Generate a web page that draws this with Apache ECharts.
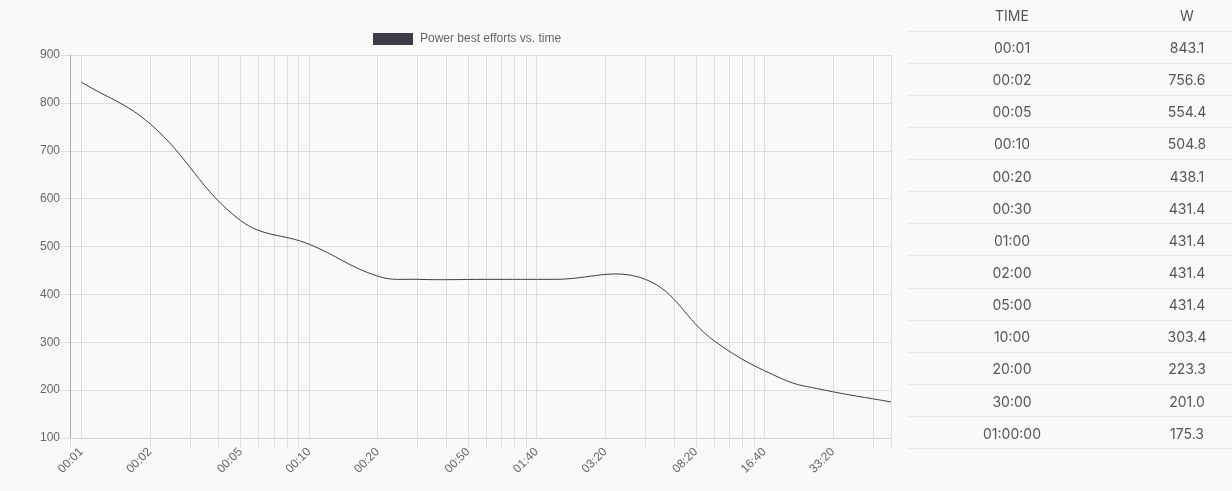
<!DOCTYPE html>
<html>
<head>
<meta charset="utf-8">
<script src="https://cdn.jsdelivr.net/npm/echarts@6/dist/echarts.min.js"></script>
<style>
  html, body { margin: 0; padding: 0; background: #f9f9f9; overflow: hidden; }
  #chart { position: absolute; left: 0; top: 0; width: 1232px; height: 491px; }
  #tbl { position: absolute; left: 908px; top: 0; width: 324px; font-family: Inter, "Noto Sans", sans-serif; font-size: 14px; color: #555; }
  .row { position: relative; height: 32.15px; border-bottom: 1px solid #e9e9e9; box-sizing: border-box; }
  .row.head { height: 31.5px; }
  .row span { position: absolute; top: 50%; transform: translate(-50%, -50%); white-space: nowrap; }
  .c1 { left: 104px; }
  .c2 { left: 279px; }
</style>
</head>
<body>
<div id="chart"></div>
<div id="tbl"></div>
<script>
// ---- data ----
const durations = [1, 2, 5, 10, 20, 30, 60, 120, 300, 600, 1200, 1800, 3600]; // seconds
const watts = [843.1, 756.6, 554.4, 504.8, 438.1, 431.4, 431.4, 431.4, 431.4, 303.4, 223.3, 201.0, 175.3];
const tableTimes = ['00:01','00:02','00:05','00:10','00:20','00:30','01:00','02:00','05:00','10:00','20:00','30:00','01:00:00'];
const tableWatts = ['843.1','756.6','554.4','504.8','438.1','431.4','431.4','431.4','431.4','303.4','223.3','201.0','175.3'];
const xLabelSeconds = [1, 2, 5, 10, 20, 50, 100, 200, 500, 1000, 2000];
const gridSeconds = [1,2,3,4,5,6,7,8,9,10,20,30,40,50,60,70,80,90,100,200,300,400,500,600,700,800,900,1000,2000,3000,3600];
const tickSeconds = [0.891,2,3,4,5,6,7,8,9,30,40,50,60,70,80,90,300,400,500,600,700,800,900,3000,3600];
const xMinSeconds = 0.891, xMaxSeconds = 3600;
const seriesName = 'Power best efforts vs. time';
const TENSION = 0.4;

// ---- table ----
const tbl = document.getElementById('tbl');
function addRow(a, b, head) {
  const r = document.createElement('div');
  r.className = 'row' + (head ? ' head' : '');
  r.innerHTML = '<span class="c1">' + a + '</span><span class="c2">' + b + '</span>';
  tbl.appendChild(r);
}
addRow('TIME', 'W', true);
tableTimes.forEach((t, i) => addRow(t, tableWatts[i]));

// ---- chart ----
const lg = v => Math.log10(v);
function fmt(v) {
  const s = Math.round(Math.pow(10, v));
  const m = Math.floor(s / 60), ss = s % 60;
  return String(m).padStart(2, '0') + ':' + String(ss).padStart(2, '0');
}
const seriesData = durations.map((d, i) => [lg(d), watts[i]]);

// spline control points (tension-based cardinal spline), in pixel space via api.coord
function controlPoints(prev, cur, next, t) {
  const d01 = Math.hypot(cur[0] - prev[0], cur[1] - prev[1]);
  const d12 = Math.hypot(next[0] - cur[0], next[1] - cur[1]);
  let s01 = d01 / (d01 + d12), s12 = d12 / (d01 + d12);
  if (!isFinite(s01)) s01 = 0;
  if (!isFinite(s12)) s12 = 0;
  const fa = t * s01, fb = t * s12;
  return {
    prev: [cur[0] - fa * (next[0] - prev[0]), cur[1] - fa * (next[1] - prev[1])],
    next: [cur[0] + fb * (next[0] - prev[0]), cur[1] + fb * (next[1] - prev[1])]
  };
}

const chart = echarts.init(document.getElementById('chart'));
const FONT = '"Liberation Sans", Arial, Helvetica, sans-serif';
const LINE = '#3d3e48';
chart.setOption({
  animation: false,
  backgroundColor: '#f9f9f9',
  textStyle: { fontFamily: FONT },
  legend: {
    left: 373, top: 33, padding: 0, itemWidth: 40, itemHeight: 12, icon: 'rect',
    textStyle: { fontSize: 12, color: '#666', fontFamily: FONT, padding: [0, 0, 0, 2] },
    data: [seriesName]
  },
  grid: { left: 70, right: 341, top: 55, bottom: 53, containLabel: false },
  xAxis: [{
    type: 'value',
    min: lg(xMinSeconds), max: lg(xMaxSeconds),
    axisLine: { show: true, onZero: false, lineStyle: { color: '#d0d0d0', width: 1 } },
    axisTick: { show: false, customValues: gridSeconds.map(lg) },
    splitLine: { show: true, lineStyle: { color: '#dedede', width: 1 } },
    axisLabel: {
      customValues: xLabelSeconds.map(lg), formatter: fmt,
      rotate: 45, margin: 12, fontSize: 12, color: '#666', fontFamily: FONT
    }
  }, {
    type: 'value', position: 'bottom',
    min: lg(xMinSeconds), max: lg(xMaxSeconds),
    axisLine: { show: false, onZero: false },
    axisTick: { show: true, length: 9, customValues: tickSeconds.map(lg), lineStyle: { color: '#dedede' } },
    splitLine: { show: false },
    axisLabel: { show: false }
  }],
  yAxis: {
    type: 'value', min: 100, max: 900, interval: 100,
    axisLine: { show: true, onZero: false, lineStyle: { color: '#aaa', width: 1 } },
    axisTick: { show: true, length: 9, lineStyle: { color: '#dedede' } },
    splitLine: { show: true, lineStyle: { color: '#dedede', width: 1 } },
    axisLabel: { margin: 10, fontSize: 12, color: '#666', fontFamily: FONT }
  },
  series: [{
    name: seriesName,
    type: 'custom',
    xAxisIndex: 0,
    itemStyle: { color: LINE },
    encode: { x: 0, y: 1 },
    data: seriesData,
    renderItem: function (params, api) {
      const i = params.dataIndex;
      const n = seriesData.length;
      if (i >= n - 1) return { type: 'group', children: [] };
      const P = k => api.coord(seriesData[Math.max(0, Math.min(n - 1, k))]);
      const p0 = P(i - 1), p1 = P(i), p2 = P(i + 1), p3 = P(i + 2);
      const c1 = controlPoints(i === 0 ? p1 : p0, p1, p2, TENSION);
      const c2 = controlPoints(p1, p2, i + 1 === n - 1 ? p2 : p3, TENSION);
      return {
        type: 'bezierCurve',
        shape: {
          x1: p1[0], y1: p1[1], x2: p2[0], y2: p2[1],
          cpx1: c1.next[0], cpy1: c1.next[1], cpx2: c2.prev[0], cpy2: c2.prev[1]
        },
        style: { stroke: LINE, fill: null, lineWidth: 1 }
      };
    }
  }]
});
</script>
</body>
</html>
